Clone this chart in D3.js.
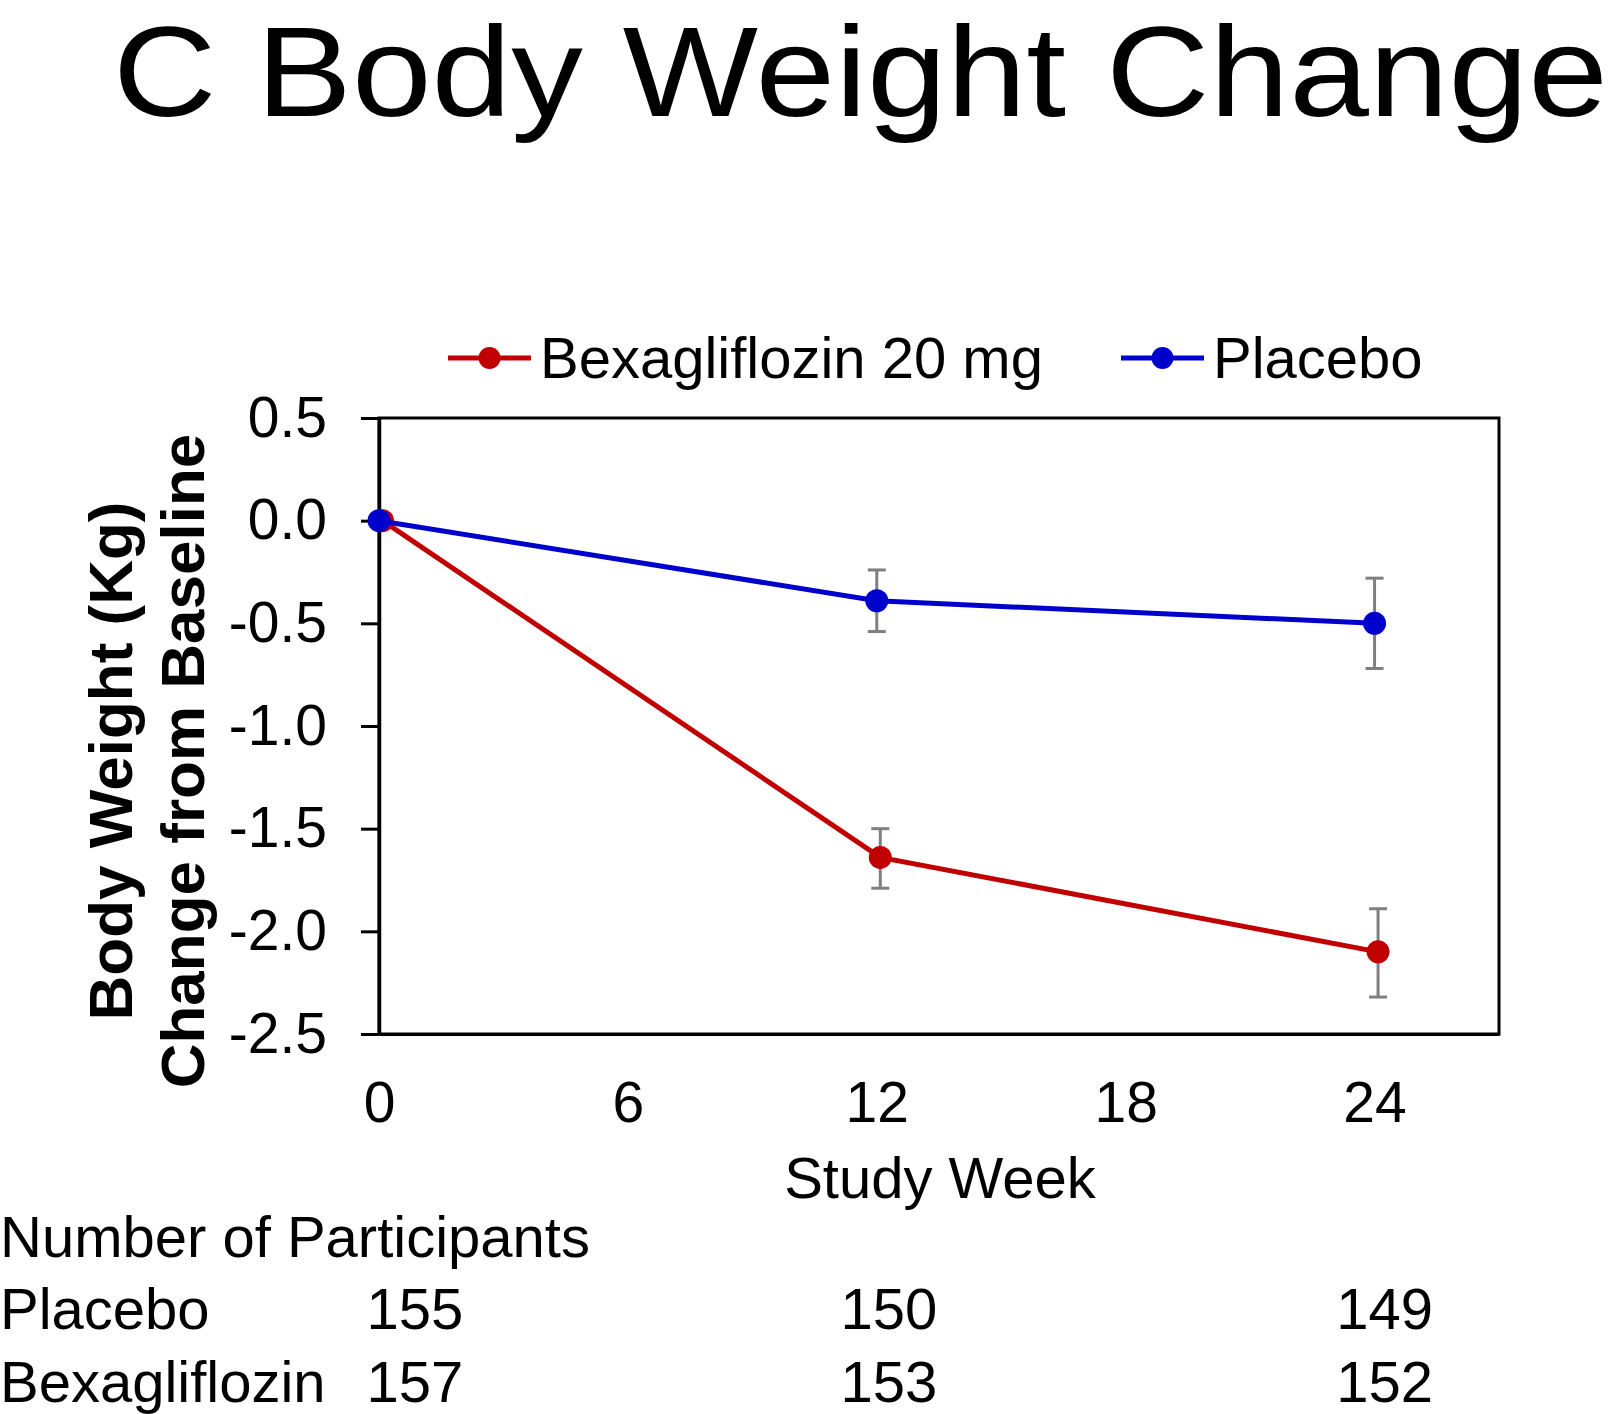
<!DOCTYPE html>
<html>
<head>
<meta charset="utf-8">
<script src="https://cdn.jsdelivr.net/npm/d3@7"></script>
<style>
  html, body { margin: 0; padding: 0; background: #fff; }
  svg { display: block; }
  text { font-family: "Liberation Sans", Arial, sans-serif; fill: #000; }
</style>
</head>
<body>
<svg id="chart" width="1616" height="1414"></svg>
<script>
// ---- data ----
const weeks = [0, 12, 24];
const seriesNames = ["Bexagliflozin 20 mg", "Placebo"];
const bexaMean = [0, -1.64, -2.10];
const bexaErrLow = [0, -1.79, -2.32];
const bexaErrHigh = [0, -1.50, -1.89];
const placeboMean = [0, -0.39, -0.50];
const placeboErrLow = [0, -0.54, -0.72];
const placeboErrHigh = [0, -0.24, -0.28];
const yTickValues = [0.5, 0.0, -0.5, -1.0, -1.5, -2.0, -2.5];
const yTickLabels = ["0.5", "0.0", "-0.5", "-1.0", "-1.5", "-2.0", "-2.5"];
const xTickValues = [0, 6, 12, 18, 24];
const xTickLabels = ["0", "6", "12", "18", "24"];
const tableRowLabels = ["Placebo", "Bexagliflozin"];
const placeboN = [155, 150, 149];
const bexaN = [157, 153, 152];

// ---- layout ----
const plot = { left: 379, top: 418, right: 1499, bottom: 1034 };
const svg = d3.select("#chart");

const x = d3.scaleLinear().domain([0, 27]).range([plot.left, plot.right]);
const y = d3.scaleLinear().domain([-2.5, 0.5]).range([plot.bottom, plot.top]);

const red = "#c00000", blue = "#0000cc", errGray = "#7f7f7f";
const fs = 58, tickFs = 57;

// Title
svg.append("text")
  .attr("x", 113).attr("y", 116)
  .attr("textLength", 1495).attr("lengthAdjust", "spacingAndGlyphs")
  .style("font-family", "'Liberation Sans', Arial, sans-serif")
  .style("font-size", "128px")
  .text("C Body Weight Change");

// Plot box
svg.append("rect")
  .attr("x", plot.left).attr("y", plot.top)
  .attr("width", plot.right - plot.left).attr("height", plot.bottom - plot.top)
  .attr("fill", "none").attr("stroke", "#000").attr("stroke-width", 3);

// Y axis
const yAxis = d3.axisLeft(y)
  .tickValues(yTickValues)
  .tickFormat((d, i) => yTickLabels[i])
  .tickSize(18).tickSizeOuter(0).tickPadding(34);
const gy = svg.append("g").attr("transform", `translate(${plot.left},0)`).call(yAxis);
gy.select(".domain").attr("stroke", "#000").attr("stroke-width", 3.5);
gy.selectAll(".tick line").attr("stroke", "#000").attr("stroke-width", 3);
gy.selectAll(".tick text").style("font-size", tickFs + "px").style("font-family", "'Liberation Sans', Arial, sans-serif").attr("fill", "#000");

// X axis (labels only)
const xAxis = d3.axisBottom(x)
  .tickValues(xTickValues)
  .tickFormat((d, i) => xTickLabels[i])
  .tickSize(0).tickSizeOuter(0).tickPadding(48);
const gx = svg.append("g").attr("transform", `translate(0,${plot.bottom})`).call(xAxis);
gx.select(".domain").attr("stroke", "#000").attr("stroke-width", 3);
gx.selectAll(".tick text").style("font-size", tickFs + "px").style("font-family", "'Liberation Sans', Arial, sans-serif").attr("fill", "#000");

// Axis titles
svg.append("text")
  .attr("x", 940).attr("y", 1198)
  .attr("text-anchor", "middle").style("font-size", fs + "px")
  .text("Study Week");

const yTitle = ["Body Weight (Kg)", "Change from Baseline"];
[132, 204].forEach((bx, i) => {
  svg.append("text")
    .attr("transform", `translate(${bx},761) rotate(-90)`)
    .attr("text-anchor", "middle")
    .style("font-size", "62px").style("font-weight", "bold")
    .text(yTitle[i]);
});

// Series
const series = [
  { name: seriesNames[0], color: red, mean: bexaMean, lo: bexaErrLow, hi: bexaErrHigh, dx: 3.5 },
  { name: seriesNames[1], color: blue, mean: placeboMean, lo: placeboErrLow, hi: placeboErrHigh, dx: 0 }
];

const line = d3.line().x(d => d[0]).y(d => d[1]);
series.forEach(s => {
  const pts = weeks.map((w, i) => [x(w) + s.dx, y(s.mean[i])]);
  const eg = svg.append("g");
  weeks.forEach((w, i) => {
    if (s.lo[i] === s.hi[i]) return;
    const cx = x(w) + s.dx;
    eg.append("line").attr("x1", cx).attr("x2", cx).attr("y1", y(s.lo[i])).attr("y2", y(s.hi[i]))
      .attr("stroke", errGray).attr("stroke-width", 3);
    [s.lo[i], s.hi[i]].forEach(v => {
      eg.append("line").attr("x1", cx - 9).attr("x2", cx + 9).attr("y1", y(v)).attr("y2", y(v))
        .attr("stroke", errGray).attr("stroke-width", 3);
    });
  });
  svg.append("path").datum(pts).attr("d", line)
    .attr("fill", "none").attr("stroke", s.color).attr("stroke-width", 5);
  svg.append("g").selectAll("circle").data(pts).join("circle")
    .attr("cx", d => d[0]).attr("cy", d => d[1]).attr("r", 11.5).attr("fill", s.color);
});

// Legend
const legendItems = [
  { name: seriesNames[0], color: red, x0: 448 },
  { name: seriesNames[1], color: blue, x0: 1121 }
];
legendItems.forEach(li => {
  const g = svg.append("g").attr("transform", `translate(${li.x0},358)`);
  g.append("line").attr("x1", 0).attr("x2", 83).attr("y1", 0).attr("y2", 0)
    .attr("stroke", li.color).attr("stroke-width", 5);
  g.append("circle").attr("cx", 41.5).attr("cy", 0).attr("r", 11).attr("fill", li.color);
  g.append("text").attr("x", 92).attr("y", 20).style("font-size", fs + "px").text(li.name);
});

// Participants table
svg.append("text").attr("x", 0).attr("y", 1257).style("font-size", fs + "px").text("Number of Participants");
const colOffsets = [36, 12, 10];
[placeboN, bexaN].forEach((row, r) => {
  const yy = 1329 + r * 73;
  svg.append("text").attr("x", 0).attr("y", yy).style("font-size", fs + "px").text(tableRowLabels[r]);
  row.forEach((n, i) => {
    svg.append("text").attr("x", x(weeks[i]) + colOffsets[i]).attr("y", yy)
      .attr("text-anchor", "middle").style("font-size", fs + "px").text(n);
  });
});
</script>
</body>
</html>
